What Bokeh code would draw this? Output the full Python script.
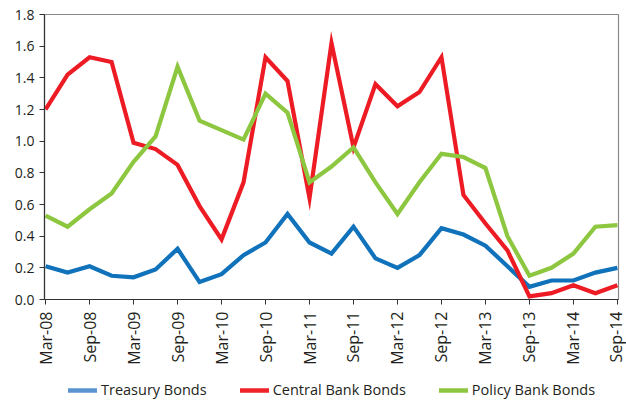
import math
from bokeh.plotting import figure
from bokeh.layouts import column
from bokeh.models import FixedTicker, Range1d, Legend, LegendItem, ColumnDataSource
from bokeh.embed import file_html
from bokeh.resources import INLINE

quarters = ["Mar-08", "Jun-08", "Sep-08", "Dec-08", "Mar-09", "Jun-09", "Sep-09", "Dec-09",
            "Mar-10", "Jun-10", "Sep-10", "Dec-10", "Mar-11", "Jun-11", "Sep-11", "Dec-11",
            "Mar-12", "Jun-12", "Sep-12", "Dec-12", "Mar-13", "Jun-13", "Sep-13", "Dec-13",
            "Mar-14", "Jun-14", "Sep-14"]
treasury = [0.21, 0.17, 0.21, 0.15, 0.14, 0.19, 0.32, 0.11, 0.16, 0.28, 0.36, 0.54, 0.36,
            0.29, 0.46, 0.26, 0.20, 0.28, 0.45, 0.41, 0.34, 0.21, 0.08, 0.12, 0.12, 0.17, 0.20]
central = [1.20, 1.42, 1.53, 1.50, 0.99, 0.95, 0.85, 0.59, 0.38, 0.74, 1.53, 1.38, 0.64,
           1.62, 0.96, 1.36, 1.22, 1.31, 1.53, 0.66, 0.48, 0.31, 0.02, 0.04, 0.09, 0.04, 0.09]
policy = [0.53, 0.46, 0.57, 0.67, 0.87, 1.03, 1.47, 1.13, 1.07, 1.01, 1.30, 1.18, 0.74,
          0.84, 0.96, 0.74, 0.54, 0.74, 0.92, 0.90, 0.83, 0.40, 0.15, 0.20, 0.29, 0.46, 0.47]
series_names = ["Treasury Bonds", "Central Bank Bonds", "Policy Bank Bonds"]
colors = ["#0F72BA", "#ED1C24", "#8DC63F"]
legend_colors = ["#5A93D0", "#EE2227", "#8DC63F"]
y_ticks = [0.0, 0.2, 0.4, 0.6, 0.8, 1.0, 1.2, 1.4, 1.6, 1.8]

xs = list(range(len(quarters)))
FONT = "Open Sans"
TXT = "#231F20"
W = 626

p = figure(width=W, height=373, output_backend="svg", toolbar_location=None,
           x_range=Range1d(-0.05, len(quarters) - 1 + 0.05), y_range=Range1d(0, 1.8),
           min_border_left=44, min_border_right=8, min_border_top=14, min_border_bottom=74)
p.xgrid.visible = False
p.ygrid.visible = False
p.outline_line_color = "#8A8A8A"
p.outline_line_width = 1.2
p.background_fill_color = "white"
p.border_fill_color = "white"

for vals, c in zip([treasury, central, policy], colors):
    src = ColumnDataSource(dict(x=xs, y=vals))
    p.line("x", "y", source=src, line_color=c, line_width=4.2, line_join="miter")

p.xaxis.ticker = FixedTicker(ticks=xs[::2])
p.xaxis.major_label_overrides = {i: quarters[i] for i in xs[::2]}
p.xaxis.major_label_orientation = math.pi / 2
p.xaxis.major_label_text_font_size = "16px"
p.xaxis.major_label_standoff = 7
p.xaxis.minor_tick_line_color = None

p.yaxis.ticker = FixedTicker(ticks=y_ticks)
p.yaxis.major_label_overrides = {v: f"{v:.1f}" for v in y_ticks}
p.yaxis.major_label_text_font_size = "14px"
p.yaxis.major_label_standoff = 5
p.yaxis.minor_tick_line_color = None

for ax in (p.xaxis, p.yaxis):
    ax.major_label_text_font = FONT
    ax.major_label_text_color = TXT
    ax.major_tick_out = 5
    ax.major_tick_in = 0
    ax.axis_line_color = "#333333"
    ax.axis_line_width = 1.2
    ax.major_tick_line_color = "#333333"

# separate strip below the chart that holds the legend
lg = figure(width=W, height=30, output_backend="svg", toolbar_location=None,
            x_range=Range1d(0, 1), y_range=Range1d(0, 1),
            x_axis_type=None, y_axis_type=None,
            min_border_left=0, min_border_right=0, min_border_top=0, min_border_bottom=0)
lg.outline_line_color = None
lg.xgrid.visible = False
lg.ygrid.visible = False
legend_renderers = []
for c in legend_colors:
    # key-only renderers: their points lie outside the strip's visible range
    r = lg.line(x=[-5, -4], y=[-5, -5], line_color=c, line_width=4.5, line_cap="round")
    legend_renderers.append(r)

legend = Legend(items=[LegendItem(label=n, renderers=[r]) for n, r in zip(series_names, legend_renderers)],
                orientation="horizontal", location=(24, 4),
                label_text_font=FONT, label_text_font_size="14.5px", label_text_color=TXT,
                glyph_width=29, glyph_height=14, label_height=14, label_standoff=4,
                spacing=33, padding=0, margin=0,
                border_line_color=None, background_fill_alpha=0)
lg.add_layout(legend, "center")

layout = column(p, lg, spacing=0)
open("out.html", "w").write(file_html(layout, INLINE))
